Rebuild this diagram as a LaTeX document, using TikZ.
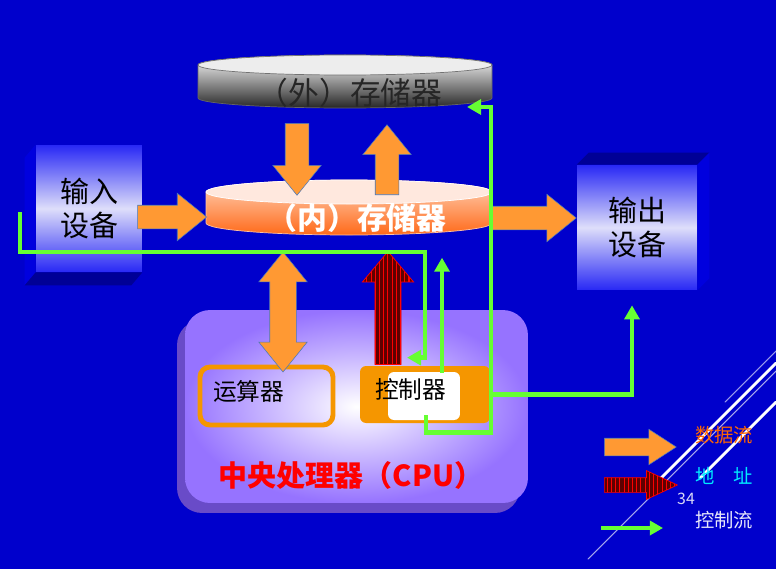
\documentclass[tikz,border=0pt]{standalone}
\usepackage{fontspec}
\setmainfont{Noto Sans CJK SC}
\usetikzlibrary{shapes,arrows.meta,positioning,calc,patterns.meta,shadows}

\definecolor{bgblue}{RGB}{0,0,204}
\definecolor{dataorange}{RGB}{255,153,51}
\definecolor{ctrlgreen}{RGB}{102,255,51}
\definecolor{unitorange}{RGB}{245,150,0}
\definecolor{edgeblue}{RGB}{70,120,190}
\definecolor{addrred}{RGB}{95,0,0}
\definecolor{devblue}{RGB}{40,40,245}
\definecolor{devpale}{RGB}{222,222,250}
\definecolor{devside}{RGB}{0,0,222}
\definecolor{devdark}{RGB}{0,0,150}
\definecolor{cpuviolet}{RGB}{150,115,255}
\definecolor{cpuside}{RGB}{105,75,200}
\definecolor{intlight}{RGB}{255,212,185}
\definecolor{intdark}{RGB}{255,105,25}
\definecolor{inttop}{RGB}{255,232,222}
\definecolor{legorange}{RGB}{255,102,0}
\definecolor{legcyan}{RGB}{0,235,255}

\begin{document}
\begin{tikzpicture}[
    x=0.02cm, y=0.02cm,
    device/.style={rectangle, top color=devblue, bottom color=devblue, middle color=devpale, align=center, font=\fontsize{16.5}{19}\selectfont},
    unit/.style={rectangle, minimum width=2.66cm, minimum height=1.16cm, align=left, text height=12pt, text depth=7pt, font=\fontsize{13.5}{16}\selectfont},
    cpubox/.style={rectangle, rounded corners=0.5cm, minimum width=6.86cm, minimum height=3.86cm, inner color=white, outer color=cpuviolet, drop shadow={shadow xshift=-0.16cm, shadow yshift=-0.2cm, fill=cpuside, opacity=1}},
    data/.style={single arrow, anchor=tail, draw=edgeblue, line width=0.3pt, fill=dataorange, inner xsep=0pt, single arrow tip angle=78},
    addr/.style={single arrow, anchor=tail, draw=red, line width=0.4pt, preaction={fill=addrred}, pattern={Lines[angle=90,distance=2.4pt,line width=0.6pt]}, pattern color=red, inner xsep=0pt},
    ctrl/.style={draw=ctrlgreen, line width=2.5pt, -{Triangle[length=8pt,width=8.5pt]}},
    legend/.style={font=\fontsize{11}{13}\selectfont},
    deco/.style={line cap=round}
]
\fill[bgblue] (0,0) rectangle (776,569);
\useasboundingbox (0,0) rectangle (776,569);

\draw[deco, draw=white!65!bgblue, line width=0.6pt] (588,10) -- (776,198);
\draw[deco, draw=white, line width=1.6pt] (660,90) -- (776,206);
\draw[deco, draw=white!60!bgblue, line width=0.6pt] (725,167) -- (776,218);
\draw[deco, draw=white, line width=1.6pt] (700,91) -- (776,167);

\shadedraw[top color=white, middle color=black!10, bottom color=black!85, draw=black!60, line width=0.4pt] (198,504) -- (198,471) arc[start angle=180, end angle=360, x radius=147, y radius=10] -- (492,504) arc[start angle=0, end angle=180, x radius=147, y radius=10] -- cycle;
\filldraw[fill=black!7, draw=black!55, line width=0.4pt] (345,504) ellipse[x radius=147, y radius=10];
\node[font=\fontsize{17.5}{20}\selectfont, text=black!85] (ext) at (350,476) {（外）存储器};

\shadedraw[top color=intlight, bottom color=intdark, draw=white!60!intdark, line width=0.4pt] (206,377) -- (206,346) arc[start angle=180, end angle=360, x radius=143, y radius=12] -- (492,377) arc[start angle=0, end angle=180, x radius=143, y radius=12] -- cycle;
\filldraw[fill=inttop, draw=white, line width=0.4pt] (349,377) ellipse[x radius=143, y radius=12];
\node[font=\bfseries\fontsize{17}{20}\selectfont, text=white] (int) at (357,351) {（内）存储器};

\node[device, minimum width=2.12cm, minimum height=2.54cm] (indev) at (89,360.5) {输入\\设备};
\fill[devside] (indev.north west) -- ++(-11,-13) -- ($(indev.south west)+(-11,-13)$) -- (indev.south west) -- cycle;
\fill[devdark] (indev.south west) -- ++(-11,-13) -- ($(indev.south east)+(-11,-13)$) -- (indev.south east) -- cycle;

\node[device, minimum width=2.4cm, minimum height=2.5cm] (outdev) at (637,341.5) {输出\\设备};
\fill[devdark] (outdev.north west) -- ++(12,12) -- ($(outdev.north east)+(12,12)$) -- (outdev.north east) -- cycle;
\fill[devside] (outdev.north east) -- ++(12,12) -- ($(outdev.south east)+(12,12)$) -- (outdev.south east) -- cycle;

\node[cpubox] (cpu) at (356.5,162.5) {};
\node[font=\bfseries\fontsize{16.5}{20}\selectfont, text=red] (cpulbl) at (351,94) {中央处理器（CPU）};
\node[unit, draw=unitorange, line width=2.8pt, rounded corners=0.2cm, text width=2.14cm] (alu) at (266.5,173) {运算器};
\node[unit, fill=unitorange, rounded corners=0.12cm, minimum width=2.6cm, minimum height=1.14cm, text width=2.0cm,
    path picture={\fill[white] ($(path picture bounding box.north west)+(28,-6)$) rectangle ($(path picture bounding box.south east)+(-30,3)$);}] (ctrl) at (425,174.5) {控制器};

\node[data, minimum height=1.44cm, inner ysep=0.23cm, single arrow head extend=0.25cm, rotate=-90] (e2i) at (297,446) {};
\node[data, minimum height=1.4cm, inner ysep=0.23cm, single arrow head extend=0.25cm, rotate=90] (i2e) at (387,374) {};
\node[data, minimum height=1.38cm, inner ysep=0.23cm, single arrow head extend=0.24cm] (in2i) at ($(indev.east)+(-5,-8.5)$) {};
\node[data, anchor=tip, minimum height=1.7cm, inner ysep=0.23cm, single arrow head extend=0.24cm] (i2out) at ($(outdev.west)+(0,9.5)$) {};
\node[double arrow, draw=edgeblue, line width=0.3pt, fill=dataorange, inner xsep=0pt, inner ysep=0.26cm, double arrow head extend=0.22cm, double arrow tip angle=78, minimum height=2.4cm, rotate=90] (alubus) at (283,257) {};
\node[addr, minimum height=2.26cm, inner ysep=0.25cm, single arrow head extend=0.25cm, single arrow tip angle=80, rotate=90] (adr) at (388,204) {};

\coordinate (inctl) at (20,357);
\coordinate (extin) at (467,462);
\coordinate (rbus) at (491,0);
\draw[ctrl] (inctl) -- ++(0,-40) -| ($(ctrl.north)+(0,8)$) -- ++(-18,0);
\draw[ctrl] ($(ctrl.south)+(1,8)$) -- ++(0,-17) -| ($(extin)+(24,0)$) -- (extin);
\draw[ctrl] ($(ctrl.north)+(17,-7)$) -- ++(0,115);
\draw[ctrl] (ctrl.east -| rbus) -| ($(outdev.south)+(-5,-15)$);

\node[data, minimum height=1.44cm, inner ysep=0.17cm, single arrow head extend=0.18cm, single arrow tip angle=66] (legdata) at (604,122) {};
\node[addr, minimum height=1.46cm, inner ysep=0.14cm, single arrow head extend=0.14cm, single arrow tip angle=50] (legaddr) at (604,84) {};
\coordinate (legctl) at (601,41);
\draw[ctrl, -{Triangle[length=7.5pt,width=8pt]}] (legctl) -- ++(62,0);
\node[legend, text=legorange] (ldata) at (724,134) {数据流};
\node[legend, text=legcyan] (laddr) at (724,93) {地　址};
\node[legend, text=white!90!bgblue] (lctrl) at (724,49) {控制流};
\node[font=\fontsize{9}{10}\selectfont, text=white!85!bgblue] (pgnum) at (686,70) {34};
\end{tikzpicture}
\end{document}
